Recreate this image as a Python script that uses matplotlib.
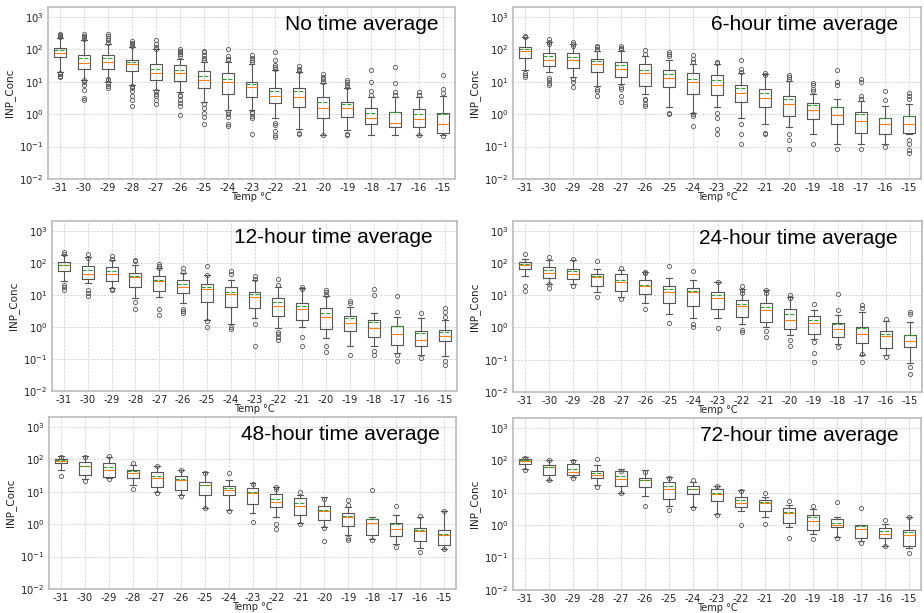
"""Box plots of INP concentration vs temperature for several averaging windows."""

import matplotlib
matplotlib.use("Agg")
import matplotlib.pyplot as plt

temps = [-31, -30, -29, -28, -27, -26, -25, -24, -23, -22, -21, -20, -19, -18, -17, -16, -15]

titles = ["No time average", "6-hour time average", "12-hour time average",
          "24-hour time average", "48-hour time average", "72-hour time average"]

# --- no time average
q1_0h = [58, 24, 24, 21, 11, 10.5, 6.2, 4.3, 3.4, 2.25, 1.7, 0.74, 0.8, 0.49, 0.39, 0.4, 0.26]
med_0h = [77, 38, 40, 36, 18, 19, 11, 9.5, 6.7, 3.7, 3.4, 1.5, 1.5, 0.77, 0.52, 0.73, 0.48]
q3_0h = [109, 65, 68, 48, 34, 32, 21, 18, 10, 6.5, 6.2, 3.4, 2.4, 1.5, 1.2, 1.4, 1.05]
mean_0h = [93, 55, 54, 40, 25, 23, 15, 12, 8.2, 5.1, 5.2, 2.4, 2.0, 1.05, 1.2, 1.0, 1.0]
lo_0h = [20, 11, 10, 7.8, 5.5, 4.9, 2.4, 1.3, 1.3, 0.74, 0.36, 0.23, 0.32, 0.23, 0.23, 0.23, 0.22]
hi_0h = [220, 197, 150, 118, 100, 50, 40, 40, 36, 23, 20, 9, 6.2, 3.4, 3.4, 3.4, 3.5]
fl_0h = [[230, 250, 270, 300, 13.5, 15, 17, 19],
         [210, 230, 260, 300, 2.8, 3.2, 5.5, 8, 9.5, 11],
         [160, 190, 220, 250, 290, 6.5, 7.5, 9, 11, 12.5],
         [125, 140, 155, 175, 1.8, 2.8, 3.5, 5, 6.5, 7.5],
         [105, 120, 140, 190, 2, 2.8, 3.5, 4.2, 5],
         [60, 70, 80, 90, 100, 0.95, 1.8, 2.2, 2.8, 3.5, 4],
         [45, 55, 65, 80, 90, 0.5, 0.8, 1.1, 1.5, 2],
         [45, 50, 60, 100, 0.42, 0.5, 0.8, 1, 1.2],
         [40, 45, 55, 65, 0.25, 0.75, 0.9, 1.1, 1.2],
         [25, 28, 32, 45, 85, 0.2, 0.23, 0.3, 0.45, 0.55],
         [22, 25, 30, 0.25, 0.27],
         [10, 12, 14, 17, 0.22],
         [7, 8, 9.5, 11, 0.23, 0.25],
         [4, 5, 10, 23],
         [4, 4.8, 9, 28],
         [4, 4.8, 0.22],
         [4.5, 5.8, 16, 0.21]]

# --- 6-hour
q1_6h = [53, 30, 26, 20.5, 13.7, 7.2, 6.7, 4.2, 4, 2.3, 1.7, 0.85, 0.7, 0.5, 0.27, 0.25, 0.27]
med_6h = [88, 45, 47, 36, 25, 18.7, 13, 9.6, 8.1, 4.4, 3.2, 2.1, 1.3, 0.93, 0.6, 0.5, 0.5]
q3_6h = [117, 78, 78, 51, 40, 34, 23, 18.7, 15.5, 8.1, 6, 3.7, 2.2, 1.6, 1.2, 0.78, 0.88]
mean_6h = [99, 61, 57, 42, 32, 23.6, 17.4, 12, 11.5, 6.2, 4.4, 2.9, 1.9, 1.6, 1.0, 0.78, 0.85]
lo_6h = [23, 19.5, 14, 7.6, 8.5, 4.2, 1.7, 1.1, 1.7, 0.78, 0.48, 0.39, 0.25, 0.12, 0.12, 0.12, 0.25]
hi_6h = [230, 170, 150, 90, 90, 64, 45, 35, 35, 18.7, 17.4, 10.8, 4.2, 2.9, 2.6, 1.8, 2]
fl_6h = [[240, 250, 14, 16, 19],
         [140, 170, 210, 8, 9, 11, 13],
         [130, 150, 170, 7, 9.5, 12],
         [100, 115, 130, 3.6, 5, 6],
         [100, 110, 125, 2.3, 3.5, 6, 7],
         [70, 95, 1.8, 2, 2.8, 3],
         [60, 70, 80, 1, 1.1],
         [40, 50, 65, 0.42, 0.9, 1],
         [38, 40, 0.25, 0.35, 0.75, 1.1],
         [20, 25, 45, 0.12, 0.25, 0.5],
         [16, 18, 0.25, 0.27],
         [12, 14, 16, 0.085, 0.16, 0.25],
         [5, 6, 8, 9, 0.12],
         [8, 10, 23, 0.085],
         [3, 3.5, 10, 12, 0.085],
         [2.8, 5, 0.1],
         [3, 3.5, 4.5, 0.065, 0.08, 0.12, 0.16]]

# --- 12-hour
q1_12h = [55, 31, 26, 18, 13.5, 11, 6.1, 4.1, 3.8, 2.2, 1.65, 0.85, 0.72, 0.5, 0.27, 0.25, 0.35]
med_12h = [83, 45, 45, 35, 26, 17, 14.8, 10.6, 8.8, 4.5, 3.6, 2, 1.36, 0.9, 0.6, 0.39, 0.53]
q3_12h = [103, 81, 76, 47, 39, 29, 22, 17, 12.5, 7.8, 5.7, 4, 2.2, 1.6, 1.1, 0.72, 0.8]
mean_12h = [85, 60, 55, 39, 29, 22, 17, 12.5, 10.4, 6.1, 4.5, 2.8, 1.9, 1.45, 1.1, 0.63, 0.67]
lo_12h = [26, 23, 16, 7.8, 8.4, 5.5, 1.6, 1.25, 1.9, 0.9, 1.0, 0.45, 0.25, 0.25, 0.15, 0.13, 0.125]
hi_12h = [175, 155, 122, 85, 67, 49, 41, 29, 28, 17, 16, 8.9, 4.2, 2.7, 2.1, 1.9, 1.6]
fl_12h = [[190, 210, 14, 18, 20],
          [140, 185, 9, 11, 14],
          [130, 160, 14, 15],
          [110, 125, 3.7, 6],
          [70, 80, 90, 2.4, 3.6],
          [50, 70, 2.8, 3.2, 3.7],
          [40, 80, 1, 1.5],
          [45, 55, 0.85, 1],
          [30, 38, 0.25, 1.2],
          [20, 32, 0.4, 0.5, 0.6, 0.7],
          [15, 18, 0.25, 0.5],
          [10, 12, 14, 0.16, 0.25],
          [5.5, 6.3, 0.13],
          [10, 15, 0.13, 0.18],
          [3, 9.5, 0.085, 0.13],
          [2.7, 0.11],
          [2, 3, 3.8, 0.065, 0.085]]

# --- 24-hour
q1_24h = [67, 34, 33, 19.5, 13.5, 11, 5.9, 4.6, 3.8, 2.1, 1.5, 0.9, 0.63, 0.5, 0.33, 0.23, 0.24]
med_24h = [89, 49, 47, 37, 26, 20, 12.5, 12.5, 8.4, 4.5, 3.4, 1.75, 1.4, 0.9, 0.64, 0.55, 0.39]
q3_24h = [108, 76, 67, 45, 45, 29, 19, 16.7, 12.5, 7.2, 5.7, 3.8, 2.2, 1.4, 1.05, 0.76, 0.6]
mean_24h = [95, 60, 57, 39, 29, 21, 16, 13.4, 10, 5.5, 4.3, 2.7, 1.7, 1.25, 0.94, 0.62, 0.58]
lo_24h = [39, 23, 23, 12.7, 8.8, 5.7, 2.7, 2, 1.9, 1.25, 1.05, 0.57, 0.45, 0.3, 0.14, 0.14, 0.08]
hi_24h = [130, 122, 122, 67, 60, 53, 35, 29, 26, 16, 15, 8.9, 3.6, 2.4, 3.1, 1.6, 1.5]
fl_24h = [[185, 14, 20],
          [150, 17, 23],
          [130, 19],
          [115, 9],
          [72, 7.5],
          [50, 53, 3.8],
          [80, 1.4],
          [55, 1, 1.3],
          [26, 0.95],
          [12, 15, 20, 0.75, 0.85],
          [12, 15, 0.5, 0.8],
          [8, 10, 0.26, 0.4],
          [5.2, 0.085, 0.16, 0.35],
          [3.5, 11, 0.25],
          [4, 5, 0.15, 0.085],
          [1.8, 0.12],
          [2.7, 3, 0.037, 0.06]]

# --- 48-hour
q1_48h = [75, 33, 29, 27, 14, 11, 7.8, 7.8, 4.2, 3.4, 1.9, 1.3, 0.9, 0.45, 0.42, 0.31, 0.23]
med_48h = [89, 60, 45, 37, 26, 23, 16, 11, 9.2, 4.8, 3.5, 2.6, 1.65, 1.05, 0.7, 0.6, 0.45]
q3_48h = [100, 81, 75, 47, 41, 30, 20, 15, 13.4, 8.4, 6.6, 3.5, 2.2, 1.43, 1.05, 0.75, 0.65]
mean_48h = [95, 62, 59, 44, 30, 24, 16, 13.4, 10, 5.8, 4.4, 2.75, 1.75, 1.4, 1.0, 0.67, 0.5]
lo_48h = [47, 25, 26, 16, 10, 7.7, 3.2, 2.8, 2.2, 1.7, 1.1, 0.8, 0.45, 0.35, 0.24, 0.19, 0.17]
hi_48h = [128, 122, 116, 67, 60, 47, 39, 23, 18, 14, 7.8, 6.9, 3.4, 1.6, 1.9, 1.6, 2.5]
fl_48h = [[120, 30], [115, 22], [130, 25], [75, 12.5], [60, 9], [45, 7.3],
          [37, 3.1], [38, 2.5], [17, 1.2], [12, 14, 0.7, 1], [10, 1],
          [6, 0.3, 0.75], [4, 5.5, 0.33, 0.38], [11, 0.33], [3.6, 0.2],
          [1.8, 0.14], [2.5, 0.17]]

# --- 72-hour
q1_72h = [75, 34, 34, 28, 16, 15, 6.5, 9.3, 5.5, 3.6, 2.7, 1.2, 0.72, 0.88, 0.4, 0.4, 0.23]
med_72h = [93, 62, 42, 36, 27, 24, 13, 13, 9.3, 4.8, 4.8, 2.3, 1.35, 1.0, 0.77, 0.55, 0.5]
q3_72h = [112, 70, 75, 46, 46, 28, 21, 16, 12.7, 7.1, 5.8, 3.4, 2.1, 1.5, 1.0, 0.83, 0.7]
mean_72h = [100, 62, 55, 41, 33, 25, 16, 13.4, 10, 5.8, 5.2, 2.5, 1.75, 1.2, 0.97, 0.66, 0.63]
lo_72h = [55, 24, 31, 17, 10, 7.9, 3.9, 3.6, 2.2, 2.8, 1.8, 0.85, 0.53, 0.42, 0.33, 0.23, 0.2]
hi_72h = [127, 105, 100, 70, 53, 49, 31, 22, 16, 11.8, 7.3, 4.3, 3.2, 1.75, 1.0, 1.1, 1.75]
fl_72h = [[120, 50], [105, 24], [95, 29], [110, 15], [48, 9.5], [43, 3.8],
          [29, 2.9], [25, 3.3], [16, 2.1], [11, 1], [10, 1.1], [5.7, 0.4],
          [4, 0.38], [5, 0.4], [3.3, 0.28], [1.4, 0.22], [1.8, 0.14]]

panels = [
    (q1_0h, med_0h, q3_0h, mean_0h, lo_0h, hi_0h, fl_0h),
    (q1_6h, med_6h, q3_6h, mean_6h, lo_6h, hi_6h, fl_6h),
    (q1_12h, med_12h, q3_12h, mean_12h, lo_12h, hi_12h, fl_12h),
    (q1_24h, med_24h, q3_24h, mean_24h, lo_24h, hi_24h, fl_24h),
    (q1_48h, med_48h, q3_48h, mean_48h, lo_48h, hi_48h, fl_48h),
    (q1_72h, med_72h, q3_72h, mean_72h, lo_72h, hi_72h, fl_72h),
]

# axes boxes in pixels: left, top, right, bottom
W, H = 924, 613
rects = [(48, 7, 455, 179), (513, 7, 921, 179),
         (52, 221, 457, 391), (513, 221, 922, 392),
         (49, 417, 456, 589), (513, 418, 921, 590)]
title_x = [0.96, 0.944, 0.94, 0.94, 0.96, 0.944]

fig = plt.figure(figsize=(W / 100, H / 100), dpi=100)

for i, (q1, med, q3, mean, lo, hi, fl) in enumerate(panels):
    l, t, r, b = rects[i]
    ax = fig.add_axes([l / W, 1 - b / H, (r - l) / W, (b - t) / H])

    stats = []
    for j in range(len(temps)):
        stats.append(dict(q1=q1[j], med=med[j], q3=q3[j], mean=mean[j],
                          whislo=lo[j], whishi=hi[j], fliers=fl[j]))

    line = dict(color="#555555", linewidth=0.8)
    ax.bxp(stats, showmeans=True, meanline=True,
           boxprops=line, whiskerprops=line, capprops=line,
           medianprops=dict(color="#ff7f0e", linewidth=0.8),
           meanprops=dict(color="#2ca02c", linewidth=0.8, linestyle="--"),
           flierprops=dict(marker="o", markersize=3, markerfacecolor="none",
                           markeredgecolor="#555555", markeredgewidth=0.6))

    ax.set_yscale("log")
    ax.set_ylim(0.01, 2000)
    ax.set_xlim(0.5, len(temps) + 0.5)
    ax.set_xticks(range(1, len(temps) + 1))
    ax.set_xticklabels([str(t) for t in temps])
    ax.minorticks_off()
    ax.tick_params(labelsize=7.2, colors="#222222", length=0, pad=3)
    ax.grid(True, color="#cccccc", linestyle="--", linewidth=0.5)
    ax.set_axisbelow(True)
    for s in ax.spines.values():
        s.set_color("#bbbbbb")
        s.set_linewidth(1.2)

    ax.set_xlabel("Temp °C", fontsize=7, labelpad=-1, color="#222222")
    ax.set_ylabel("INP_Conc", fontsize=7.5, labelpad=3, color="#222222")
    ax.text(title_x[i], 0.9, titles[i], transform=ax.transAxes,
            ha="right", va="center", fontsize=15, family="Liberation Sans")

fig.savefig("out.png", dpi=100)
